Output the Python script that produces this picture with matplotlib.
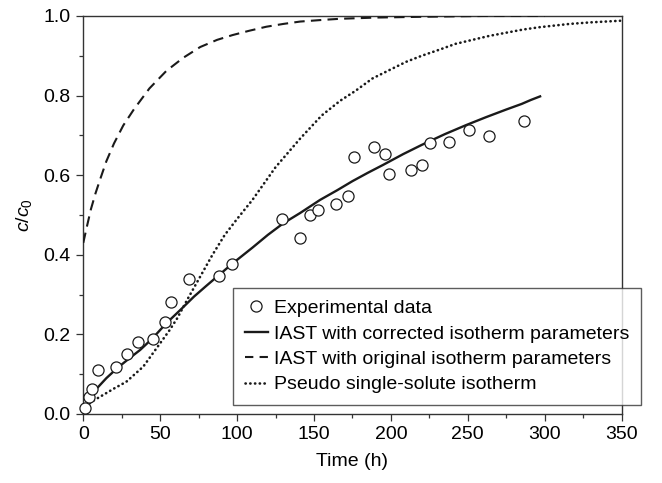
import matplotlib
matplotlib.use("Agg")
import matplotlib.pyplot as plt
from matplotlib.ticker import MultipleLocator
from matplotlib.lines import Line2D

plt.rcParams['font.family'] = ['Liberation Sans', 'DejaVu Sans']
plt.rcParams['mathtext.fontset'] = 'custom'
plt.rcParams['mathtext.it'] = 'Liberation Sans:italic'
plt.rcParams['mathtext.rm'] = 'Liberation Sans'

# Experimental data
exp_t = [1.1, 3.7, 5.9, 9.3, 21.2, 28.2, 35.7, 45.5, 53.2, 57.0, 68.8, 88.1, 96.8,
         129.5, 140.7, 147.7, 152.6, 164.5, 172.0, 176.0, 188.8, 195.9, 198.7,
         213.2, 220.1, 225.3, 237.7, 250.5, 264.1, 286.8]
exp_c = [0.014, 0.042, 0.062, 0.110, 0.119, 0.150, 0.180, 0.188, 0.231, 0.282, 0.339,
         0.347, 0.376, 0.490, 0.441, 0.500, 0.512, 0.528, 0.547, 0.645, 0.671,
         0.652, 0.603, 0.614, 0.626, 0.682, 0.684, 0.713, 0.699, 0.736]

# IAST with corrected isotherm parameters
corr_t = [5, 9, 15, 22, 30, 37, 45, 54, 63, 72, 80, 90, 97, 110, 120, 130, 141,
          154, 165, 175, 185, 195, 208, 220, 235, 249, 262, 275, 285, 291, 297]
corr_c = [0.05, 0.065, 0.09, 0.115, 0.14, 0.161, 0.19, 0.228, 0.261, 0.295, 0.322,
          0.355, 0.378, 0.418, 0.45, 0.479, 0.505, 0.538, 0.562, 0.585, 0.606,
          0.626, 0.653, 0.676, 0.703, 0.726, 0.746, 0.765, 0.779, 0.789, 0.798]

# IAST with original isotherm parameters
orig_t = [0, 2, 5, 8, 11, 15, 20, 26, 33, 43, 54, 65, 76, 87, 97, 108, 119, 130,
          141, 155, 167, 190, 220, 260, 300]
orig_c = [0.43, 0.465, 0.515, 0.555, 0.59, 0.635, 0.68, 0.725, 0.766, 0.818, 0.862,
          0.895, 0.922, 0.94, 0.952, 0.963, 0.973, 0.98, 0.986, 0.99, 0.993, 0.996,
          0.998, 1.0, 1.0]

# Pseudo single-solute isotherm
pseudo_t = [0, 5, 13, 20, 28, 39, 47.6, 56, 61, 68, 76, 84, 92, 100, 110, 125, 141,
            155, 167, 177, 188, 200, 210, 220, 232, 242, 253, 264, 275, 286, 297,
            316, 330, 349]
pseudo_c = [0.01, 0.03, 0.048, 0.064, 0.081, 0.119, 0.165, 0.21, 0.24, 0.29, 0.345,
            0.4, 0.45, 0.49, 0.538, 0.62, 0.692, 0.75, 0.787, 0.812, 0.843, 0.866,
            0.885, 0.9, 0.916, 0.93, 0.94, 0.95, 0.958, 0.966, 0.972, 0.98, 0.984,
            0.988]

x_ticks = [0, 50, 100, 150, 200, 250, 300, 350]
y_ticks = [0.0, 0.2, 0.4, 0.6, 0.8, 1.0]

FS = 14

fig = plt.figure(figsize=(6.62, 4.83), dpi=100)
ax = fig.add_axes([0.1258, 0.1429, 0.8132, 0.824])

ink = '#1a1a1a'
ax.plot(corr_t, corr_c, color=ink, lw=1.7, zorder=3)
ax.plot(orig_t, orig_c, color=ink, lw=1.5, dashes=(5, 3), zorder=3)
ax.plot(pseudo_t, pseudo_c, color=ink, lw=1.9, dashes=(0.1, 1.7),
        dash_capstyle='round', zorder=3)
ax.plot(exp_t, exp_c, 'o', ms=8, mfc='white', mec=ink, mew=0.9, zorder=4,
        clip_on=False)

ax.set_xlim(0, 350)
ax.set_ylim(0, 1.0)
ax.set_xticks(x_ticks)
ax.set_yticks(y_ticks)
ax.xaxis.set_minor_locator(MultipleLocator(25))
ax.yaxis.set_minor_locator(MultipleLocator(0.1))
ax.set_xticklabels([str(v) for v in x_ticks])
ax.set_yticklabels([f"{v:.1f}" for v in y_ticks])
ax.tick_params(which='major', direction='out', length=5, width=0.9, color='#333333',
               labelsize=FS, pad=4)
ax.tick_params(which='minor', direction='out', length=3, width=0.9, color='#333333')
for s in ax.spines.values():
    s.set_linewidth(1.0)
    s.set_color('#333333')

ax.set_xlabel('Time (h)', fontsize=FS, labelpad=7)
ax.set_ylabel(r'$c/c_0$', fontsize=FS, labelpad=7)

handles = [
    Line2D([], [], marker='o', ls='none', ms=8, mfc='white', mec=ink, mew=0.9),
    Line2D([], [], color=ink, lw=1.7),
    Line2D([], [], color=ink, lw=1.5, dashes=(4, 3)),
    Line2D([], [], color=ink, lw=1.9, dashes=(0.1, 1.7), dash_capstyle='round'),
]
labels = ['Experimental data', 'IAST with corrected isotherm parameters',
          'IAST with original isotherm parameters', 'Pseudo single-solute isotherm']
leg = fig.legend(handles, labels, loc='upper left',
                 bbox_to_anchor=(233 / 662, 1 - 288 / 483),
                 fontsize=FS, frameon=True, fancybox=False, handlelength=1.2,
                 handletextpad=0.3, borderpad=0.6, labelspacing=0.4,
                 borderaxespad=0)
leg.get_frame().set_edgecolor('#333333')
leg.get_frame().set_linewidth(1.0)

fig.savefig('out.png', dpi=100)
